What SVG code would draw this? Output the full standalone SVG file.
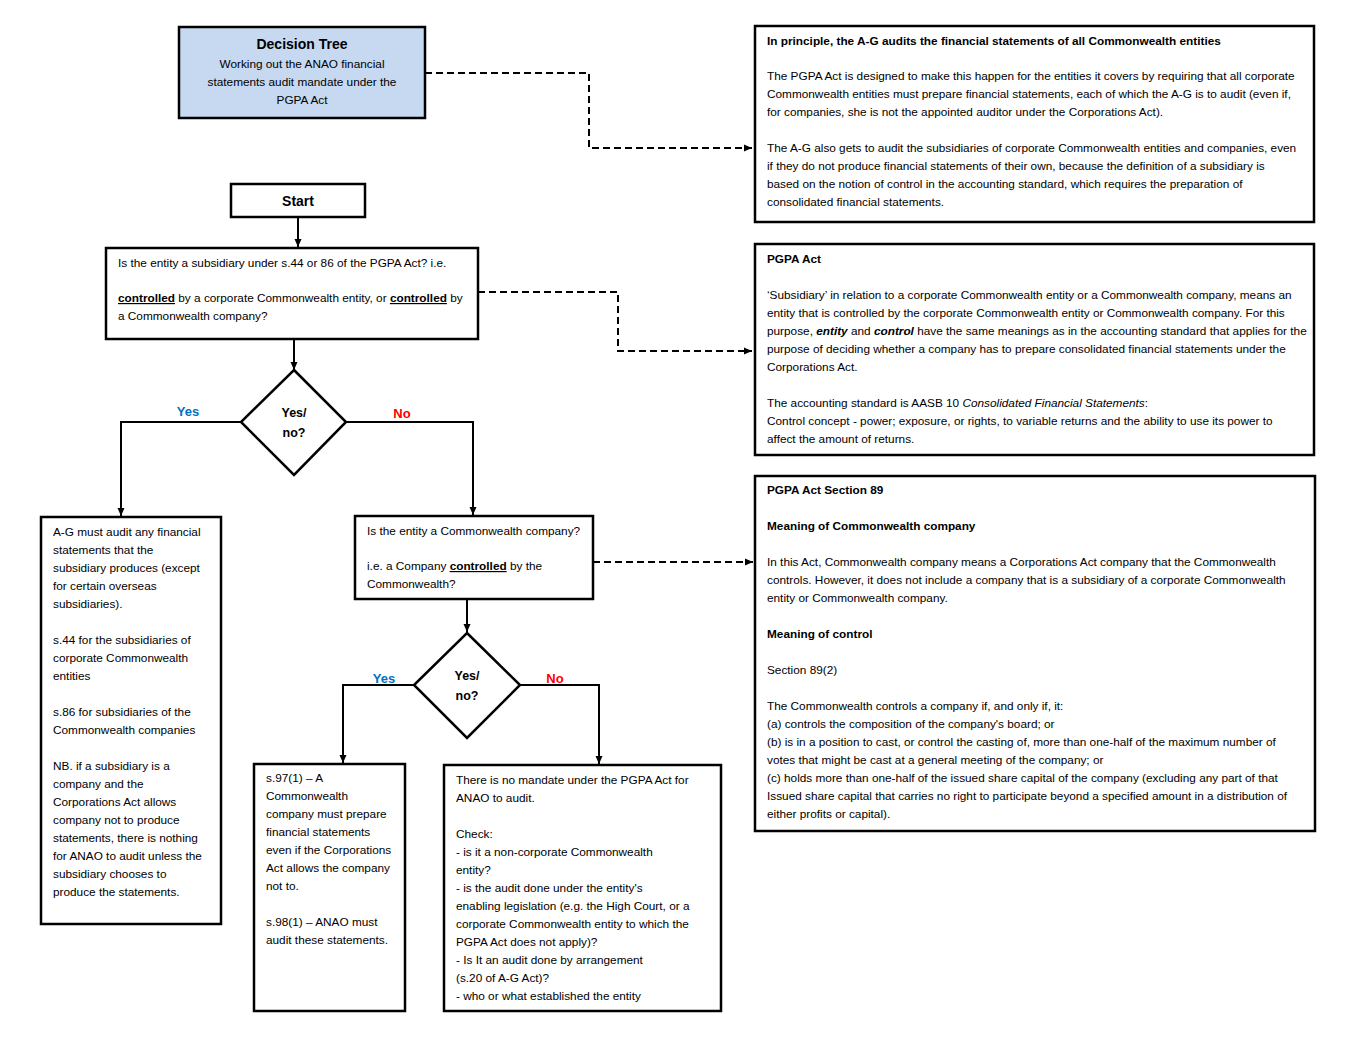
<svg xmlns="http://www.w3.org/2000/svg" width="1355" height="1049" viewBox="0 0 1355 1049">
<style>
.t{font-family:"Liberation Sans",Arial,sans-serif;font-size:11.8px;fill:#000}
.b{font-weight:bold}
.i{font-style:italic}
.u{font-weight:bold;text-decoration:underline}
.box{fill:#fff;stroke:#000;stroke-width:2.5}
.blue{fill:#c6d9f1}
.con{fill:none;stroke:#000;stroke-width:2}
.dash{stroke-dasharray:7 4}
.yes{font-family:"Liberation Sans",Arial,sans-serif;font-size:13px;font-weight:bold;fill:#0070c0}
.no{font-family:"Liberation Sans",Arial,sans-serif;font-size:13px;font-weight:bold;fill:#ff0000}
.dl{font-family:"Liberation Sans",Arial,sans-serif;font-size:12.5px;font-weight:bold;fill:#000}
</style>
<defs>
<marker id="arr" markerWidth="10" markerHeight="10" refX="9" refY="5" orient="auto" markerUnits="userSpaceOnUse">
<path d="M1,1.5 L9,5 L1,8.5 Z" fill="#000"/>
</marker>
</defs>

<g id="connectors">
<path class="con dash" d="M425,73 H589 V148 H752" marker-end="url(#arr)"/>
<path class="con dash" d="M478,292 H618 V351 H752" marker-end="url(#arr)"/>
<path class="con dash" d="M593,562 H753" marker-end="url(#arr)"/>
<path class="con" d="M298,217 V247" marker-end="url(#arr)"/>
<path class="con" d="M294,339 V370" marker-end="url(#arr)"/>
<path class="con" d="M241,422 H121 V516" marker-end="url(#arr)"/>
<path class="con" d="M346,422 H473 V515" marker-end="url(#arr)"/>
<path class="con" d="M467,599 V632" marker-end="url(#arr)"/>
<path class="con" d="M414,685 H343 V763" marker-end="url(#arr)"/>
<path class="con" d="M520,685 H599 V764" marker-end="url(#arr)"/>
<text class="yes" x="188" y="416" text-anchor="middle">Yes</text>
<text class="no" x="402" y="418" text-anchor="middle">No</text>
<text class="yes" x="384" y="683" text-anchor="middle">Yes</text>
<text class="no" x="555" y="683" text-anchor="middle">No</text>
</g>

<g id="title">
<rect class="box blue" x="179" y="27" width="246" height="91"/>
<text class="t b" x="302" y="49" text-anchor="middle" style="font-size:14px">Decision Tree</text>
<text class="t" x="302" y="68" text-anchor="middle">Working out the ANAO financial</text>
<text class="t" x="302" y="86" text-anchor="middle">statements audit mandate under the</text>
<text class="t" x="302" y="104" text-anchor="middle">PGPA Act</text>
</g>

<g id="start">
<rect class="box" x="231" y="184" width="134" height="33"/>
<text class="t b" x="298" y="206" text-anchor="middle" style="font-size:14px">Start</text>
</g>

<g id="q1">
<rect class="box" x="106" y="248" width="372" height="91"/>
<text class="t" x="118" y="267">Is the entity a subsidiary under s.44 or 86 of the PGPA Act? i.e.</text>
<text class="t" x="118" y="302"><tspan class="u">controlled</tspan> by a corporate Commonwealth entity, or <tspan class="u">controlled</tspan> by</text>
<text class="t" x="118" y="320">a Commonwealth company?</text>
</g>

<g id="d1">
<path class="box" d="M294,370 L346,422 L294,475 L241,422 Z"/>
<text class="dl" x="294" y="417" text-anchor="middle">Yes/</text>
<text class="dl" x="294" y="437" text-anchor="middle">no?</text>
</g>

<g id="yes1">
<rect class="box" x="41" y="517" width="180" height="407"/>
<text class="t" x="53" y="536">A-G must audit any financial</text>
<text class="t" x="53" y="554">statements that the</text>
<text class="t" x="53" y="572">subsidiary produces (except</text>
<text class="t" x="53" y="590">for certain overseas</text>
<text class="t" x="53" y="608">subsidiaries).</text>
<text class="t" x="53" y="644">s.44 for the subsidiaries of</text>
<text class="t" x="53" y="662">corporate Commonwealth</text>
<text class="t" x="53" y="680">entities</text>
<text class="t" x="53" y="716">s.86 for subsidiaries of the</text>
<text class="t" x="53" y="734">Commonwealth companies</text>
<text class="t" x="53" y="770">NB. if a subsidiary is a</text>
<text class="t" x="53" y="788">company and the</text>
<text class="t" x="53" y="806">Corporations Act allows</text>
<text class="t" x="53" y="824">company not to produce</text>
<text class="t" x="53" y="842">statements, there is nothing</text>
<text class="t" x="53" y="860">for ANAO to audit unless the</text>
<text class="t" x="53" y="878">subsidiary chooses to</text>
<text class="t" x="53" y="896">produce the statements.</text>
</g>

<g id="q2">
<rect class="box" x="355" y="516" width="238" height="83"/>
<text class="t" x="367" y="535">Is the entity a Commonwealth company?</text>
<text class="t" x="367" y="570">i.e. a Company <tspan class="u">controlled</tspan> by the</text>
<text class="t" x="367" y="588">Commonwealth?</text>
</g>

<g id="d2">
<path class="box" d="M467,633 L520,685 L467,738 L414,685 Z"/>
<text class="dl" x="467" y="680" text-anchor="middle">Yes/</text>
<text class="dl" x="467" y="700" text-anchor="middle">no?</text>
</g>

<g id="yes2">
<rect class="box" x="254" y="764" width="151" height="247"/>
<text class="t" x="266" y="782">s.97(1) – A</text>
<text class="t" x="266" y="800">Commonwealth</text>
<text class="t" x="266" y="818">company must prepare</text>
<text class="t" x="266" y="836">financial statements</text>
<text class="t" x="266" y="854">even if the Corporations</text>
<text class="t" x="266" y="872">Act allows the company</text>
<text class="t" x="266" y="890">not to.</text>
<text class="t" x="266" y="926">s.98(1) – ANAO must</text>
<text class="t" x="266" y="944">audit these statements.</text>
</g>

<g id="no2">
<rect class="box" x="444" y="765" width="277" height="246"/>
<text class="t" x="456" y="784">There is no mandate under the PGPA Act for</text>
<text class="t" x="456" y="802">ANAO to audit.</text>
<text class="t" x="456" y="838">Check:</text>
<text class="t" x="456" y="856">- is it a non-corporate Commonwealth</text>
<text class="t" x="456" y="874">entity?</text>
<text class="t" x="456" y="892">- is the audit done under the entity's</text>
<text class="t" x="456" y="910">enabling legislation (e.g. the High Court, or a</text>
<text class="t" x="456" y="928">corporate Commonwealth entity to which the</text>
<text class="t" x="456" y="946">PGPA Act does not apply)?</text>
<text class="t" x="456" y="964">- Is It an audit done by arrangement</text>
<text class="t" x="456" y="982">(s.20 of A-G Act)?</text>
<text class="t" x="456" y="1000">- who or what established the entity</text>
</g>

<g id="note1">
<rect class="box" x="755" y="26" width="559" height="196"/>
<text class="t b" x="767" y="45">In principle, the A-G audits the financial statements of all Commonwealth entities</text>
<text class="t" x="767" y="80">The PGPA Act is designed to make this happen for the entities it covers by requiring that all corporate</text>
<text class="t" x="767" y="98">Commonwealth entities must prepare financial statements, each of which the A-G is to audit (even if,</text>
<text class="t" x="767" y="116">for companies, she is not the appointed auditor under the Corporations Act).</text>
<text class="t" x="767" y="152">The A-G also gets to audit the subsidiaries of corporate Commonwealth entities and companies, even</text>
<text class="t" x="767" y="170">if they do not produce financial statements of their own, because the definition of a subsidiary is</text>
<text class="t" x="767" y="188">based on the notion of control in the accounting standard, which requires the preparation of</text>
<text class="t" x="767" y="206">consolidated financial statements.</text>
</g>

<g id="note2">
<rect class="box" x="755" y="244" width="559" height="211"/>
<text class="t b" x="767" y="263">PGPA Act</text>
<text class="t" x="767" y="299">‘Subsidiary’ in relation to a corporate Commonwealth entity or a Commonwealth company, means an</text>
<text class="t" x="767" y="317">entity that is controlled by the corporate Commonwealth entity or Commonwealth company. For this</text>
<text class="t" x="767" y="335">purpose, <tspan class="b i">entity</tspan> and <tspan class="b i">control</tspan> have the same meanings as in the accounting standard that applies for the</text>
<text class="t" x="767" y="353">purpose of deciding whether a company has to prepare consolidated financial statements under the</text>
<text class="t" x="767" y="371">Corporations Act.</text>
<text class="t" x="767" y="407">The accounting standard is AASB 10 <tspan class="i">Consolidated Financial Statements</tspan>:</text>
<text class="t" x="767" y="425">Control concept - power; exposure, or rights, to variable returns and the ability to use its power to</text>
<text class="t" x="767" y="443">affect the amount of returns.</text>
</g>

<g id="note3">
<rect class="box" x="755" y="476" width="560" height="355"/>
<text class="t b" x="767" y="494">PGPA Act Section 89</text>
<text class="t b" x="767" y="530">Meaning of Commonwealth company</text>
<text class="t" x="767" y="566">In this Act, Commonwealth company means a Corporations Act company that the Commonwealth</text>
<text class="t" x="767" y="584">controls. However, it does not include a company that is a subsidiary of a corporate Commonwealth</text>
<text class="t" x="767" y="602">entity or Commonwealth company.</text>
<text class="t b" x="767" y="638">Meaning of control</text>
<text class="t" x="767" y="674">Section 89(2)</text>
<text class="t" x="767" y="710">The Commonwealth controls a company if, and only if, it:</text>
<text class="t" x="767" y="728">(a) controls the composition of the company's board; or</text>
<text class="t" x="767" y="746">(b) is in a position to cast, or control the casting of, more than one-half of the maximum number of</text>
<text class="t" x="767" y="764">votes that might be cast at a general meeting of the company; or</text>
<text class="t" x="767" y="782">(c) holds more than one-half of the issued share capital of the company (excluding any part of that</text>
<text class="t" x="767" y="800">Issued share capital that carries no right to participate beyond a specified amount in a distribution of</text>
<text class="t" x="767" y="818">either profits or capital).</text>
</g>
</svg>
